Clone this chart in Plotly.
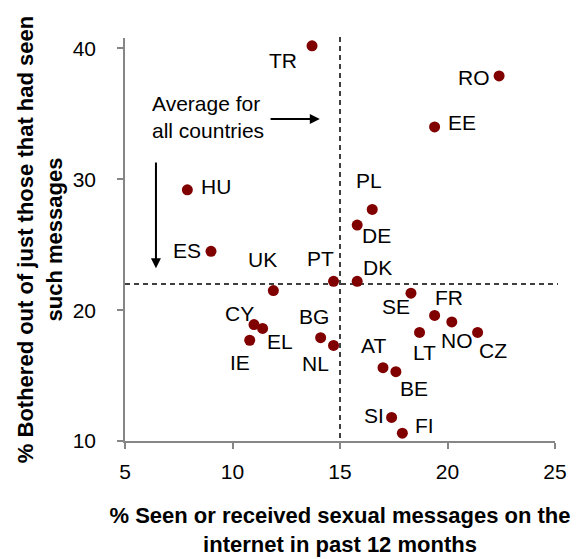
import plotly.graph_objects as go

# ---- data ----
countries = ["TR", "RO", "EE", "HU", "ES", "UK", "PT", "DK", "PL", "DE", "CY", "EL",
             "IE", "BG", "NL", "AT", "SE", "FR", "NO", "CZ", "LT", "BE", "SI", "FI"]
seen_pct = [13.7, 22.4, 19.4, 7.9, 9.0, 11.9, 14.7, 15.8, 16.5, 15.8, 11.0, 11.4,
            10.8, 14.1, 14.7, 17.0, 18.3, 19.4, 20.2, 21.4, 18.7, 17.6, 17.4, 17.9]
bothered_pct = [40.2, 37.9, 34.0, 29.2, 24.5, 21.5, 22.2, 22.2, 27.7, 26.5, 18.9, 18.6,
                17.7, 17.9, 17.3, 15.6, 21.3, 19.6, 19.1, 18.3, 18.3, 15.3, 11.8, 10.6]
avg_seen = 15.0
avg_bothered = 22.0
x_ticks = [5, 10, 15, 20, 25]
y_ticks = [10, 20, 30, 40]

# ---- label offsets in screen pixels (dx right, dy down) ----
label_offsets = {
    "TR": (-29, 16), "RO": (-25, 3), "EE": (27, -3), "HU": (29, -2), "ES": (-24, 0),
    "UK": (-11, -30), "PT": (-13, -22), "DK": (20, -13), "PL": (-3, -28), "DE": (19, 11),
    "CY": (-15, -10), "EL": (17, 14), "IE": (-10, 23), "BG": (-7, -20), "NL": (-18, 19),
    "AT": (-10, -21), "SE": (-15, 14), "FR": (14, -17), "NO": (5, 20), "CZ": (15, 19),
    "LT": (5, 21), "BE": (18, 18), "SI": (-18, -1), "FI": (22, -7),
}

FONT = "Liberation Sans, Arial, sans-serif"
AXIS_GREY = "#868686"
DOT = "#800000"

fig = go.Figure()
fig.add_trace(go.Scatter(
    x=seen_pct, y=bothered_pct, mode="markers",
    marker=dict(color=DOT, size=11, line=dict(width=0)),
    text=countries, hoverinfo="text+x+y", showlegend=False, cliponaxis=False,
))

annotations = []
for c, xv, yv in zip(countries, seen_pct, bothered_pct):
    dx, dy = label_offsets[c]
    annotations.append(dict(
        x=xv, y=yv, xref="x", yref="y", text=c, showarrow=False,
        xshift=dx, yshift=-dy + 1, xanchor="center", yanchor="middle",
        font=dict(family=FONT, size=21, color="black"),
    ))

# explanatory text and arrows
annotations.append(dict(
    x=6.16, y=34.75, xref="x", yref="y", text="Average for<br>all countries",
    showarrow=False, xanchor="left", yanchor="middle", align="left",
    font=dict(family=FONT, size=21, color="black"),
))
annotations.append(dict(
    x=14.06, y=34.6, ax=11.7, ay=34.6, xref="x", yref="y", axref="x", ayref="y",
    text="", showarrow=True, arrowhead=2, arrowsize=1, arrowwidth=2, arrowcolor="black",
))
annotations.append(dict(
    x=6.44, y=23.2, ax=6.44, ay=31.4, xref="x", yref="y", axref="x", ayref="y",
    text="", showarrow=True, arrowhead=2, arrowsize=1, arrowwidth=2, arrowcolor="black",
))

shapes = [
    dict(type="line", xref="x", yref="paper", x0=avg_seen, x1=avg_seen, y0=-0.015, y1=1.012,
         line=dict(color="black", width=1.5, dash="5px,4px"), layer="below"),
    dict(type="line", xref="paper", yref="y", x0=0, x1=1.007, y0=avg_bothered, y1=avg_bothered,
         line=dict(color="black", width=1.5, dash="5px,4px"), layer="below"),
]

# the page body has an 8px margin, so the figure is shrunk and margins shifted to compensate
fig.update_layout(
    width=578, height=551,
    margin=dict(l=117, r=31, t=30, b=118, autoexpand=False),
    paper_bgcolor="white", plot_bgcolor="white",
    font=dict(family=FONT, size=21, color="black"),
    annotations=annotations, shapes=shapes,
    xaxis=dict(
        range=[5, 25], tickvals=x_ticks, ticktext=[str(v) for v in x_ticks],
        showgrid=False, zeroline=False, showline=True, linecolor=AXIS_GREY, linewidth=1.5,
        ticks="outside", ticklen=6, tickcolor=AXIS_GREY, tickwidth=1.5,
        tickfont=dict(family=FONT, size=21, color="black"), ticklabelstandoff=5,
        title=dict(text="<b>% Seen or received sexual messages on the<br>internet in past 12 months</b>",
                   font=dict(family=FONT, size=22, color="black"), standoff=26),
    ),
    yaxis=dict(
        range=[10, 40.8], tickvals=y_ticks, ticktext=[str(v) for v in y_ticks],
        showgrid=False, zeroline=False, showline=True, linecolor=AXIS_GREY, linewidth=1.5,
        ticks="outside", ticklen=6, tickcolor=AXIS_GREY, tickwidth=1.5,
        tickfont=dict(family=FONT, size=21, color="black"), ticklabelstandoff=17,
        title=dict(text="<b>% Bothered out of just those that had seen<br>such messages</b>",
                   font=dict(family=FONT, size=22, color="black"), standoff=4),
    ),
)

fig.write_html("out.html")
